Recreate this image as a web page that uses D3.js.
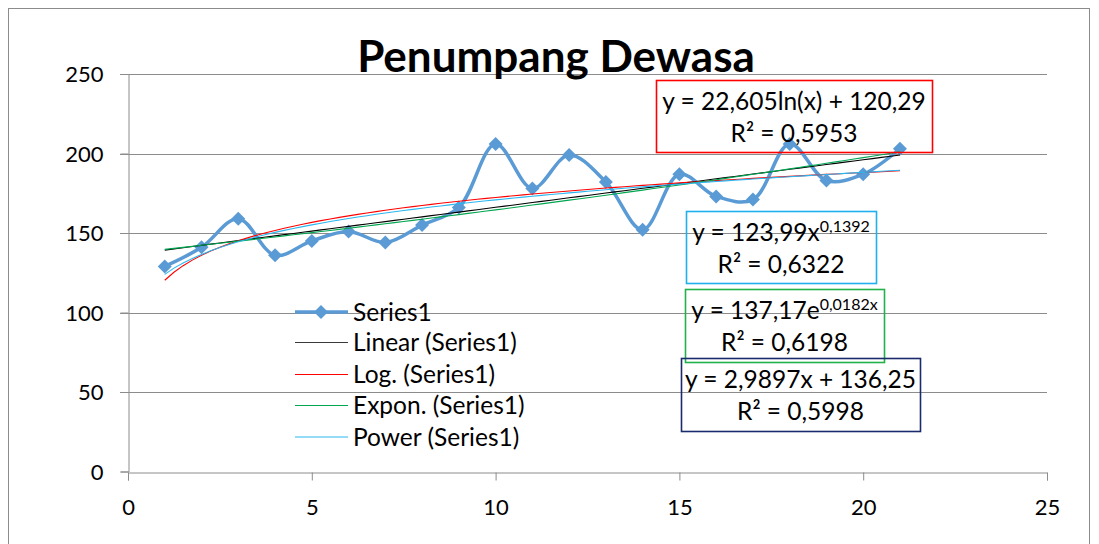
<!DOCTYPE html>
<html>
<head>
<meta charset="utf-8">
<script src="https://cdn.jsdelivr.net/npm/d3@7"></script>
<style>
  body { margin: 0; background: #fff; }
  svg { display: block; }
  text { font-family: Lato, "Open Sans", sans-serif; fill: #000; }
</style>
</head>
<body>
<svg id="chart" width="1099" height="544"></svg>
<script>
// data
const xValues = [1, 2, 3, 4, 5, 6, 7, 8, 9, 10, 11, 12, 13, 14, 15, 16, 17, 18, 19, 20, 21]
const series1 = [129, 141, 159, 136, 145, 151, 144, 155, 166, 206, 178, 199, 182, 152, 187, 173, 171, 206, 183, 187, 203]
const xTicks = [0, 5, 10, 15, 20, 25]
const yTicks = [0, 50, 100, 150, 200, 250]
const legendLabels = ['Series1', 'Linear (Series1)', 'Log. (Series1)', 'Expon. (Series1)', 'Power (Series1)']

// trendline coefficients as printed on the chart
const linearCoef = [2.9897, 136.25]
const logCoef = [22.605, 120.29]
const expCoef = [137.17, 0.0182]
const powerCoef = [123.99, 0.1392]
const r2Values = ['0,5998', '0,5953', '0,6198', '0,6322']

const svg = d3.select('#chart')

// chart frame
svg.append('rect')
  .attr('x', 8.5).attr('y', 8.5)
  .attr('width', 1081).attr('height', 560)
  .attr('fill', '#fff').attr('stroke', '#8c8c8c').attr('stroke-width', 1)

const x = d3.scaleLinear().domain([0, 25]).range([128, 1047])
const y = d3.scaleLinear().domain([0, 250]).range([471.5, 74])

// gridlines
svg.append('g')
  .selectAll('line')
  .data(yTicks.filter(d => d > 0))
  .join('line')
  .attr('x1', x(0) - 8).attr('x2', x(25))
  .attr('y1', d => Math.round(y(d)) + 0.5).attr('y2', d => Math.round(y(d)) + 0.5)
  .attr('stroke', '#8c8c8c')

// y axis
const yAxis = svg.append('g')
  .attr('transform', `translate(${Math.round(x(0)) + 0.5},0)`)
  .call(d3.axisLeft(y).tickValues(yTicks).tickSize(8).tickPadding(17))
yAxis.select('.domain').attr('stroke', '#8c8c8c')
yAxis.selectAll('.tick line').attr('stroke', '#8c8c8c')
yAxis.selectAll('.tick text').attr('font-size', 22).attr('font-family', 'Lato').attr('dy', '0.36em')

// x axis
const xAxis = svg.append('g')
  .attr('transform', `translate(0,${Math.round(y(0)) + 0.5})`)
  .call(d3.axisBottom(x).tickValues(xTicks).tickSize(8).tickPadding(19))
xAxis.select('.domain').attr('stroke', '#8c8c8c')
xAxis.selectAll('.tick line').attr('stroke', '#8c8c8c')
xAxis.selectAll('.tick text').attr('font-size', 22).attr('font-family', 'Lato')

// title
svg.append('text')
  .attr('x', 556).attr('y', 72)
  .attr('text-anchor', 'middle')
  .attr('font-size', 44).attr('font-weight', 'bold')
  .text('Penumpang Dewasa')

const points = xValues.map((d, i) => [d, series1[i]])

// series line (smoothed)
const line = d3.line()
  .x(d => x(d[0])).y(d => y(d[1]))
  .curve(d3.curveCatmullRom.alpha(0.5))

svg.append('path')
  .datum(points)
  .attr('d', line)
  .attr('fill', 'none')
  .attr('stroke', '#5b9bd5')
  .attr('stroke-width', 3.5)
  .attr('stroke-linejoin', 'round')

const diamond = 'M0,-7L7,0L0,7L-7,0Z'
svg.append('g')
  .selectAll('path')
  .data(points)
  .join('path')
  .attr('transform', d => `translate(${x(d[0])},${y(d[1])})`)
  .attr('d', diamond)
  .attr('fill', '#5b9bd5')

// trendlines
const trends = [
  { color: '#000000', f: t => linearCoef[0] * t + linearCoef[1] },
  { color: '#ff0000', f: t => logCoef[0] * Math.log(t) + logCoef[1] },
  { color: '#00a650', f: t => expCoef[0] * Math.exp(expCoef[1] * t) },
  { color: '#2ab7f0', f: t => powerCoef[0] * Math.pow(t, powerCoef[1]) }
]
const xFirst = xValues[0], xLast = xValues[xValues.length - 1]
const samples = d3.range(0, 81).map(i => xFirst + (xLast - xFirst) * i / 80)
const trendLine = d3.line().x(d => x(d[0])).y(d => y(d[1]))
trends.forEach(tr => {
  svg.append('path')
    .datum(samples.map(t => [t, tr.f(t)]))
    .attr('d', trendLine)
    .attr('fill', 'none')
    .attr('stroke', tr.color)
    .attr('stroke-width', 1.1)
})

// legend
const legend = svg.append('g')
const rowY = [312, 342.5, 374.5, 405.5, 437]
const legendColors = ['#5b9bd5', '#3a3a3a', '#ff0000', '#00a650', '#2ab7f0']
legendLabels.forEach((lab, i) => {
  const g = legend.append('g').attr('transform', `translate(0,${rowY[i]})`)
  g.append('line')
    .attr('x1', 295).attr('x2', 348)
    .attr('stroke', legendColors[i])
    .attr('stroke-width', i === 0 ? 3.5 : 1.2)
  if (i === 0) g.append('path').attr('transform', 'translate(321,0)').attr('d', diamond).attr('fill', legendColors[0])
  g.append('text').attr('x', 353).attr('y', 8.5).attr('font-size', 24.5).text(lab)
})

// equation labels
function eqBox (box, color, eq, r2) {
  const g = svg.append('g')
  g.append('rect')
    .attr('x', box[0] + 0.5).attr('y', box[1] + 0.5)
    .attr('width', box[2]).attr('height', box[3])
    .attr('fill', 'none').attr('stroke', color).attr('stroke-width', 1.6)
  const cx = box[0] + box[2] / 2
  const t1 = g.append('text').attr('x', cx).attr('y', box[1] + 30)
    .attr('text-anchor', 'middle').attr('font-size', 24.5)
  eq.forEach(part => {
    const s = t1.append('tspan').text(part[0])
    if (part[1]) s.attr('font-size', 16).attr('dy', -9)
  })
  g.append('text').attr('x', cx).attr('y', box[1] + 62)
    .attr('text-anchor', 'middle').attr('font-size', 24.5)
    .text('R² = ' + r2)
}

eqBox([656, 80, 276, 72], '#ff0000', [['y = 22,605ln(x) + 120,29']], r2Values[1])
eqBox([686, 211, 190, 72], '#1fb0ee', [['y = 123,99x'], ['0,1392', true]], r2Values[3])
eqBox([685, 289, 199, 73], '#21b24b', [['y = 137,17e'], ['0,0182x', true]], r2Values[2])
eqBox([681, 358, 239, 73], '#1a2a6b', [['y = 2,9897x + 136,25']], r2Values[0])
</script>
</body>
</html>
